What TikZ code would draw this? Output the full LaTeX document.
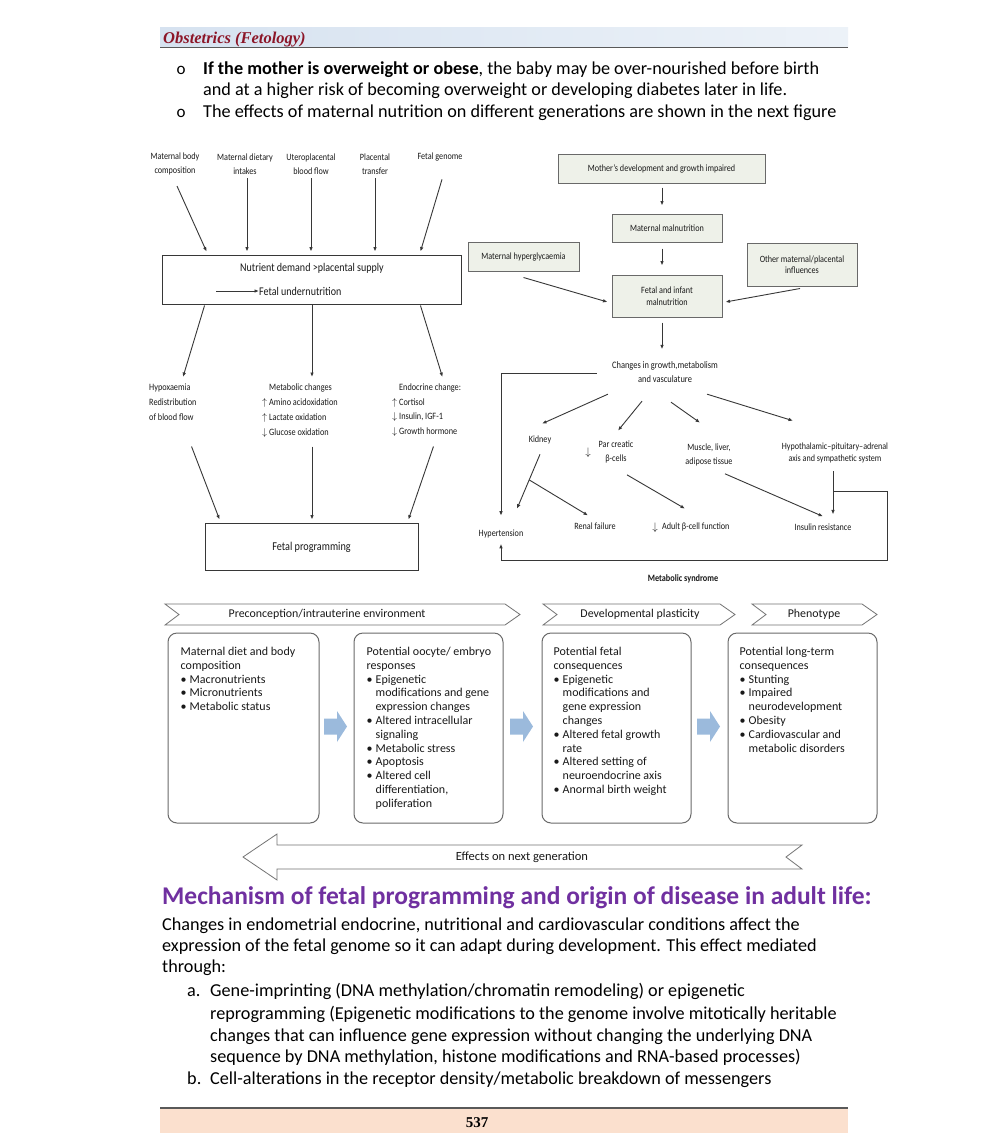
\documentclass[tikz,border=0pt]{standalone}
\usepackage{fontspec}
\setmainfont{Carlito}
\newfontfamily\cond[FakeStretch=0.85]{Carlito}
\newfontfamily\tms{Liberation Serif}
\usetikzlibrary{arrows.meta,calc}
\definecolor{hdrred}{RGB}{140,22,40}
\definecolor{headpurple}{RGB}{112,48,160}
\definecolor{boxgreen}{RGB}{238,241,233}
\definecolor{boxedge}{RGB}{105,105,105}
\definecolor{bluearr}{RGB}{155,186,220}
\definecolor{peach}{RGB}{251,224,206}
\definecolor{hdrblue}{RGB}{214,226,240}
\definecolor{lineg}{RGB}{55,55,55}
\definecolor{txtg}{RGB}{25,25,25}
\newlength\bo
\newcommand\bu[1]{\hspace*{\bo}\makebox[9pt][l]{\textbullet}#1}
\newcommand\cn[1]{\hspace*{\bo}\hspace*{9pt}#1}
\newcommand\blockarrow[1]{\fill[bluearr] (#1,718.5) -- ++(13,0) -- ++(0,-7.5) -- ++(10,15.5) -- ++(-10,15.5) -- ++(0,-7.5) -- ++(-13,0) -- cycle;}
\tikzset{
  arr/.style={draw=lineg, line width=0.9pt, -{Latex[length=4.5pt,width=3.6pt]}},
  wbox/.style={draw=lineg, line width=0.9pt, fill=white, inner sep=0pt},
  gbox/.style={draw=boxedge, fill=boxgreen, line width=1pt, inner sep=0pt, align=center, text=txtg,
     font=\cond\fontsize{9.6}{11.5}\selectfont},
  lab/.style={inner sep=0pt, align=center, text=txtg, font=\cond\fontsize{9.6}{13.5}\selectfont},
  labl/.style={inner sep=0pt, align=left, anchor=north west, text=txtg, font=\cond\fontsize{9.7}{15}\selectfont},
  rbox/.style={draw=boxedge, rounded corners=9pt, line width=1pt, inner sep=0pt},
  ptxt/.style={inner sep=0pt, align=left, anchor=north west, text=txtg, font=\fontsize{12}{13.8}\selectfont},
  chev/.style={draw=black!55, line width=0.8pt, fill=white},
  ctxt/.style={inner sep=0pt, text=txtg, font=\fontsize{11.9}{13}\selectfont},
  body/.style={inner sep=0pt, anchor=base west, font=\fontsize{18.2}{21}\selectfont},
}
\begin{document}
\begin{tikzpicture}[x=1pt,y=-1pt]
\useasboundingbox (0,0) rectangle (1000,1144);
\fill[white] (0,0) rectangle (1000,1144);
% ---------- header ----------
\fill[left color=hdrblue, right color=hdrblue!45] (160,27) rectangle (848,47);
\draw[line width=1.5pt, black!65] (160,47.5) -- (848,47.5);
\node[inner sep=0pt, anchor=base west, text=hdrred, font=\tms\bfseries\itshape\fontsize{16.5}{18}\selectfont] (hdr) at (163,43) {Obstetrics (Fetology)};
% ---------- top bullets ----------
\node[inner sep=0pt, anchor=base, font=\fontsize{17}{18}\selectfont] (o1) at (181,74.5) {o};
\node[inner sep=0pt, anchor=base, font=\fontsize{17}{18}\selectfont] (o2) at (181,117.5) {o};
\node[body] (t1) at (203,74.5) {\textbf{If the mother is overweight or obese}, the baby may be over-nourished before birth};
\node[body] (t2) at (203,95.5) {and at a higher risk of becoming overweight or developing diabetes later in life.};
\node[body] (t3) at (203,117.5) {The effects of maternal nutrition on different generations are shown in the next figure};
% ---------- left diagram ----------
\node[lab] (L1) at (175,164) {Maternal body\\composition};
\node[lab] (L2) at (245,164) {Maternal dietary\\intakes};
\node[lab] (L3) at (311,164) {Uteroplacental\\blood flow};
\node[lab] (L4) at (375,164) {Placental\\transfer};
\node[lab] (L5) at (440,157) {Fetal genome};
\node[wbox, minimum width=299pt, minimum height=49pt] (ND) at (311.5,279.5) {};
\node[lab, font=\cond\fontsize{11.8}{13}\selectfont] (NDt) at (312,268) {Nutrient demand >placental supply};
\node[lab, anchor=west, font=\cond\fontsize{11.8}{13}\selectfont] (FU) at (259,291) {Fetal undernutrition};
\coordinate (FUs) at (216,291);
\draw[arr] (FUs) -- (FU.west);
\draw[arr] ($(L1.south)+(2,11)$) -- ($(ND.north west)+(45,-3)$);
\draw[arr] ($(L2.south)+(2,4)$) -- ($(L2.south|-ND.north)+(2,-3)$);
\draw[arr] ($(L3.south)+(0,4)$) -- ($(L3.south|-ND.north)+(0,-3)$);
\draw[arr] ($(L4.south)+(0,4)$) -- ($(L4.south|-ND.north)+(0,-3)$);
\draw[arr] ($(L5.south)+(2,18)$) -- ($(ND.north east)+(-41,-3)$);
\node[labl] (HY) at (149,384) {Hypoxaemia\\Redistribution\\of blood flow};
\node[labl] (MC) at (262,384) {\makebox[7pt][l]{}Metabolic changes\\\makebox[7pt][l]{$\uparrow$}Amino acidoxidation\\\makebox[7pt][l]{$\uparrow$}Lactate oxidation\\\makebox[7pt][l]{$\downarrow$}Glucose oxidation};
\node[labl, font=\cond\fontsize{9.7}{14.5}\selectfont] (EN) at (392,384) {\makebox[7pt][l]{}Endocrine change:\\\makebox[7pt][l]{$\uparrow$}Cortisol\\\makebox[7pt][l]{$\downarrow$}Insulin, IGF-1\\\makebox[7pt][l]{$\downarrow$}Growth hormone};
\draw[arr] ($(ND.south west)+(43,1)$) -- ($(HY.north west)+(34,-7)$);
\draw[arr] ($(ND.south)+(0.5,1)$) -- ($(ND.south|-HY.north)+(0.5,-7)$);
\draw[arr] ($(ND.south east)+(-41,1)$) -- ($(ND.south east|-HY.north)+(-19,-7)$);
\node[wbox, minimum width=213pt, minimum height=47pt] (FP) at (311.5,546.5) {};
\node[lab, font=\cond\fontsize{12}{13}\selectfont] (FPt) at (311.5,547) {Fetal programming};
\draw[arr] ($(FP.north west)+(-13,-76)$) -- ($(FP.north west)+(15,-3)$);
\draw[arr] ($(FP.north)+(0.5,-76)$) -- ($(FP.north)+(0.5,-3)$);
\draw[arr] ($(FP.north east)+(15,-76)$) -- ($(FP.north east)+(-10,-3)$);
% ---------- right diagram ----------
\node[gbox, minimum width=207pt, minimum height=29pt] (MD) at (661.5,168.5) {Mother’s development and growth impaired};
\node[gbox, minimum width=110pt, minimum height=28pt] (MM) at (667,228) {Maternal malnutrition};
\node[gbox, minimum width=111pt, minimum height=29pt] (MH) at (523.5,256.5) {Maternal hyperglycaemia};
\node[gbox, minimum width=110pt, minimum height=43pt] (OM) at (802,264.5) {Other maternal/placental\\influences};
\node[gbox, minimum width=110pt, minimum height=42pt] (FI) at (667,296) {Fetal and infant\\malnutrition};
\draw[arr] ($(MD.south)+(0.5,4)$) -- ($(MD.south|-MM.north)+(0.5,-8)$);
\draw[arr] ($(MM.south)+(-5,6)$) -- ($(MM.south|-FI.north)+(-5,-9)$);
\draw[arr] ($(MH.south)+(0,6)$) -- ($(FI.west)+(-4,6)$);
\draw[arr] ($(OM.south)+(-2,2)$) -- ($(FI.east)+(3,6)$);
\node[lab, font=\cond\fontsize{9.9}{14}\selectfont] (CG) at (665,372) {Changes in growth,metabolism\\and vasculature};
\draw[arr] ($(FI.south)+(-5,5)$) -- ($(CG.north)+(-3,-12)$);
\node[lab] (KD) at (540,440) {Kidney};
\node[lab, font=\cond\fontsize{9.6}{14}\selectfont] (PC) at (616,452) {Par creatic\\β-cells};
\node[inner sep=0pt, text=txtg, font=\fontsize{11}{12}\selectfont] (DA1) at (588,453) {$\downarrow$};
\node[lab, font=\cond\fontsize{9.6}{14}\selectfont] (MU) at (709,455) {Muscle, liver,\\adipose tissue};
\node[lab, font=\cond\fontsize{9.5}{12}\selectfont] (HP) at (835,453) {Hypothalamic–pituitary–adrenal\\axis and sympathetic system};
\node[lab] (HT) at (501,534) {Hypertension};
\node[lab] (RF) at (595,526) {Renal failure};
\node[lab, anchor=west] (AB) at (662,527) {Adult β-cell function};
\node[inner sep=0pt, text=txtg, font=\fontsize{11}{12}\selectfont] (DA2) at (655,528) {$\downarrow$};
\node[lab] (IR) at (823,527) {Insulin resistance};
\node[lab, font=\cond\bfseries\fontsize{9.7}{12}\selectfont] (MS) at (683,579) {Metabolic syndrome};
\draw[arr] ($(CG.west)+(-15,1)$) -| ($(HT.north)+(0,-14)$);
\draw[arr] ($(CG.south west)+(-4,11.5)$) -- ($(KD.north)+(2,-12)$);
\draw[arr] ($(CG.south)+(-23,18.5)$) -- ($(PC.north)+(2,-10)$);
\draw[arr] ($(CG.south)+(6,19.5)$) -- ($(MU.north)+(-9,-21)$);
\draw[arr] ($(CG.south east)+(-11,11.5)$) -- ($(HP.north)+(-42,-22)$);
\draw[arr] ($(KD.south)+(0,10)$) -- coordinate[pos=0.47] (kb) ($(HT.north)+(16,-21)$);
\draw[arr] (kb) -- ($(RF.north)+(-7,-7)$);
\draw[arr] ($(PC.south)+(11,11.5)$) -- ($(AB.north west)+(23,-14)$);
\draw[arr] ($(MU.south)+(16,7.5)$) -- ($(IR.north)+(0,-7)$);
\draw[arr] ($(HP.south)+(-2,8)$) -- coordinate[pos=0.475] (hb) ($(HP.south|-IR.north)+(-2,-9)$);
\draw[arr] (hb) -- ++(54,0) |- ($(HT.south)+(0,22.5)$) -- ($(HT.south)+(0,5.5)$);
% ---------- chevron band ----------
\draw[chev] (165,604) -- (505,604) -- (520,614.5) -- (505,625) -- (165,625) -- (179,614.5) -- cycle;
\draw[chev] (543,604) -- (720,604) -- (735,614.5) -- (720,625) -- (543,625) -- (557,614.5) -- cycle;
\draw[chev] (752,604) -- (862,604) -- (877,614.5) -- (862,625) -- (752,625) -- (766,614.5) -- cycle;
\node[ctxt] (C1) at (327,614.5) {Preconception/intrauterine environment};
\node[ctxt] (C2) at (640,614.5) {Developmental plasticity};
\node[ctxt] (C3) at (814,614.5) {Phenotype};
% ---------- four rounded boxes ----------
\node[rbox, minimum width=151pt, minimum height=190pt] (B1) at (243.5,728) {};
\node[rbox, minimum width=149pt, minimum height=190pt] (B2) at (428.5,728) {};
\node[rbox, minimum width=149pt, minimum height=190pt] (B3) at (616.5,728) {};
\node[rbox, minimum width=149pt, minimum height=190pt] (B4) at (802.5,728) {};
\node[ptxt] (P1) at ($(B1.north west)+(13,14.5)$) {\setlength{\bo}{3pt}Maternal diet and body\\composition\\\bu{Macronutrients}\\\bu{Micronutrients}\\\bu{Metabolic status}};
\node[ptxt] (P2) at ($(B2.north west)+(13,14.5)$) {\setlength{\bo}{3pt}Potential oocyte/ embryo\\responses\\\bu{Epigenetic}\\\cn{modifications and gene}\\\cn{expression changes}\\\bu{Altered intracellular}\\\cn{signaling}\\\bu{Metabolic stress}\\\bu{Apoptosis}\\\bu{Altered cell}\\\cn{differentiation,}\\\cn{poliferation}};
\node[ptxt] (P3) at ($(B3.north west)+(12,14.5)$) {\setlength{\bo}{3pt}Potential fetal\\consequences\\\bu{Epigenetic}\\\cn{modifications and}\\\cn{gene expression}\\\cn{changes}\\\bu{Altered fetal growth}\\\cn{rate}\\\bu{Altered setting of}\\\cn{neuroendocrine axis}\\\bu{Anormal birth weight}};
\node[ptxt] (P4) at ($(B4.north west)+(12,14.5)$) {\setlength{\bo}{3pt}Potential long-term\\consequences\\\bu{Stunting}\\\bu{Impaired}\\\cn{neurodevelopment}\\\bu{Obesity}\\\bu{Cardiovascular and}\\\cn{metabolic disorders}};
\blockarrow{324}
\blockarrow{510}
\blockarrow{697}
% ---------- effects arrow ----------
\draw[chev] (243,857) -- (277,834) -- (277,845) -- (802,845) -- (786,857) -- (802,869) -- (277,869) -- (277,880) -- cycle;
\node[ctxt, font=\fontsize{12.5}{14}\selectfont] (EF) at (522,857) {Effects on next generation};
% ---------- bottom text ----------
\node[inner sep=0pt, anchor=base west, text=headpurple, font=\bfseries\fontsize{25.5}{28}\selectfont] (H2) at (162,904) {Mechanism of fetal programming and origin of disease in adult life:};
\node[body] (b1) at (162,930.5) {Changes in endometrial endocrine, nutritional and cardiovascular conditions affect the};
\node[body] (b2) at (162,951.5) {expression of the fetal genome so it can adapt during development. This effect mediated};
\node[body] (b3) at (162,972.5) {through:};
\node[body] (la) at (187,996.5) {a.};
\node[body] (a1) at (210,996.5) {Gene-imprinting (DNA methylation/chromatin remodeling) or epigenetic};
\node[body] (a2) at (210,1019.5) {reprogramming (Epigenetic modifications to the genome involve mitotically heritable};
\node[body] (a3) at (210,1041.5) {changes that can influence gene expression without changing the underlying DNA};
\node[body] (a4) at (210,1062.5) {sequence by DNA methylation, histone modifications and RNA-based processes)};
\node[body] (lb) at (187,1084.5) {b.};
\node[body] (bb1) at (210,1084.5) {Cell-alterations in the receptor density/metabolic breakdown of messengers};
% ---------- footer ----------
\fill[peach] (160,1108) rectangle (848,1133);
\draw[line width=1.5pt, black!65] (160,1108) -- (848,1108);
\node[inner sep=0pt, anchor=base, font=\tms\bfseries\fontsize{15}{16}\selectfont] (pg) at (477,1127) {537};
\end{tikzpicture}
\end{document}
